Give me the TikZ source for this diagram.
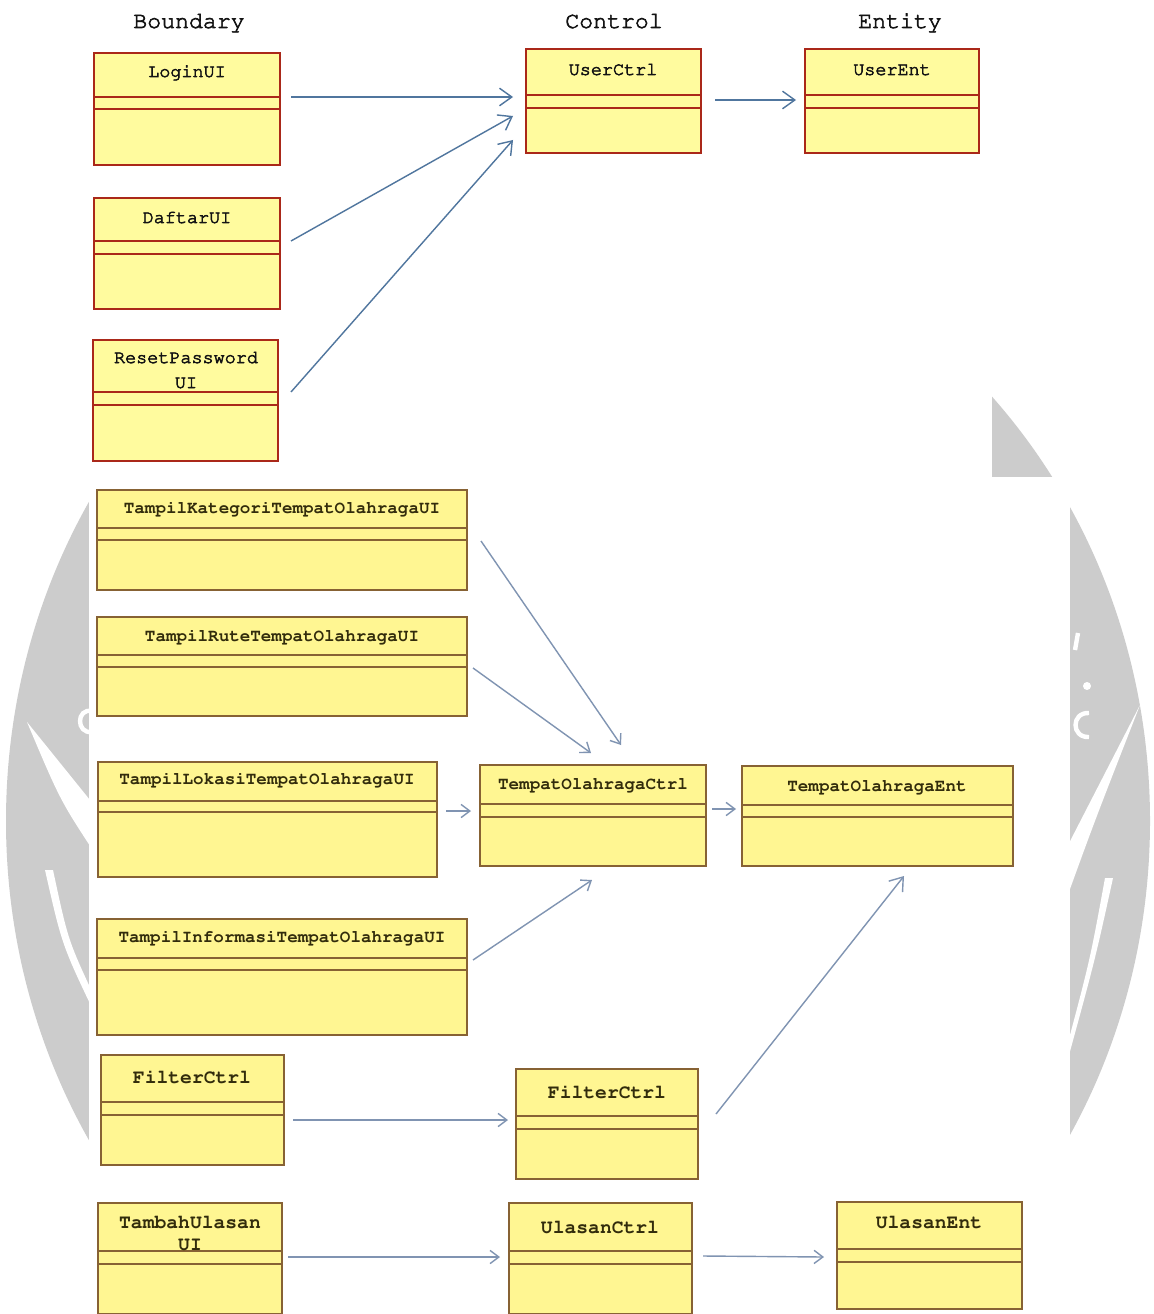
\documentclass[tikz,border=0pt]{standalone}
\usepackage[T1,TU]{fontenc}
\usetikzlibrary{arrows.meta,calc}

\newcommand\courierface{\fontencoding{T1}\fontfamily{pcr}\selectfont}
% slightly heavier strokes for the thin typewriter face
\newcommand\strokeon{\special{pdf:literal direct 2 Tr 0.35 w}}
\newcommand\strokeoff{\special{pdf:literal direct 0 Tr}}

\definecolor{boxfill}{RGB}{255,251,158}
\definecolor{boxfillB}{RGB}{255,246,146}
\definecolor{redline}{RGB}{170,40,25}
\definecolor{brownline}{RGB}{135,98,52}
\definecolor{arrowA}{RGB}{80,118,158}
\definecolor{arrowB}{RGB}{128,148,178}
\definecolor{inkA}{RGB}{20,20,20}
\definecolor{inkB}{RGB}{50,44,12}
\definecolor{wm}{RGB}{204,204,204}

% class box: name, x1, y1, x2, y2, first divider, second divider, style
\newcommand\classbox[8]{%
  \node[#8, minimum width={(#4-#2)*0.02cm}, minimum height={(#5-#3)*0.02cm}]
    (#1) at ({(#2+#4)/2},{(#3+#5)/2}) {};
  \draw[#8 div] (#1.west |- 0,#6) -- (#1.east |- 0,#6)
                (#1.west |- 0,#7) -- (#1.east |- 0,#7);
}

\begin{document}
\begin{tikzpicture}[
  x=0.02cm, y=-0.02cm,
  ubox/.style={draw=redline, fill=boxfill, line width=1.1pt, inner sep=0pt, outer sep=0pt},
  ubox div/.style={draw=redline, line width=1.1pt},
  lbox/.style={draw=brownline, fill=boxfillB, line width=1.1pt, inner sep=0pt, outer sep=0pt},
  lbox div/.style={draw=brownline, line width=1.1pt},
  stroked/.style={execute at begin node=\strokeon, execute at end node=\strokeoff},
  head/.style={font=\fontsize{13.2}{16}\courierface, text=inkA, anchor=base, inner sep=0pt, stroked},
  ulbl/.style={font=\fontsize{10.5}{14.2}\courierface, text=inkA, anchor=base, inner sep=0pt, align=center, stroked},
  tlbl/.style={font=\fontsize{10}{12}\courierface\bfseries, text=inkB, anchor=base, inner sep=0pt},
  blbl/.style={font=\fontsize{11.2}{12.5}\courierface\bfseries, text=inkB, anchor=base, inner sep=0pt, align=center},
  uarr/.style={draw=arrowA, line width=0.8pt, -{Straight Barb[length=7pt,width=10pt]}},
  larr/.style={draw=arrowB, line width=0.8pt, -{Straight Barb[length=5pt,width=7.5pt]}},
  wmcut/.style={fill=white},
]
\useasboundingbox (0,0) rectangle (1153,1314);
\fill[white] (0,0) rectangle (1153,1314);

% faint emblem behind the diagram
\fill[wm] (578,821) ellipse [x radius=572, y radius=615];
\fill[wmcut] (27,722) -- (94,805) -- (94,852) .. controls (60,800) .. (27,722);
\fill[wmcut] (45,870) .. controls (62,945) .. (94,1012) -- (94,996) .. controls (68,940) .. (53,870) -- cycle;
\draw[white, line width=2.5pt] (92,711) .. controls (76,708) and (76,734) .. (92,732);
\fill[wmcut] (1140,705) -- (1066,849) -- (1066,900) .. controls (1095,820) .. (1140,705);
\fill[wmcut] (1113,878) .. controls (1095,960) .. (1066,1066) -- (1066,1050) .. controls (1090,960) .. (1105,878) -- cycle;
\draw[white, line width=2.5pt] (1078,633) -- (1075,650);
\fill[white] (1087,686) circle [radius=4];
\draw[white, line width=2.5pt] (1089,713) .. controls (1071,712) and (1071,738) .. (1089,737);

% panels of the two sheets
\fill[white] (0,0) rectangle (992,477);
\fill[white] (89,477) rectangle (1070,1314);

% ---------- user management ----------
\node[head] (hBoundary) at (189,28) {Boundary};
\node[head] (hControl) at (614,28) {Control};
\node[head] (hEntity) at (900,28) {Entity};

\classbox{login}{94}{53}{280}{165}{97}{109}{ubox}
\classbox{daftar}{94}{198}{280}{309}{241}{254}{ubox}
\classbox{reset}{93}{340}{278}{461}{392}{405}{ubox}
\classbox{userctrl}{526}{49}{701}{153}{95}{108}{ubox}
\classbox{userent}{805}{49}{979}{153}{95}{108}{ubox}

\node[ulbl] (loginL) at (187,77) {LoginUI};
\node[ulbl] (daftarL) at (187,223) {DaftarUI};
\node[ulbl] (resetL) at (186,388) {ResetPassword\\UI};
\node[ulbl] (userctrlL) at (613,75) {UserCtrl};
\node[ulbl] (userentL) at (892,75) {UserEnt};

\draw[uarr] ($(login.north east)+(11,44)$) -- ($(userctrl.north west)+(-13,48)$);
\draw[uarr] ($(daftar.north east)+(11,43)$) -- ($(userctrl.north west)+(-13,67)$);
\draw[uarr] ($(reset.north east)+(13,52)$) -- ($(userctrl.north west)+(-13,91)$);
\draw[uarr] ($(userctrl.north east)+(14,51)$) -- ($(userent.north west)+(-9,51)$);

% ---------- sport venues, filter and reviews ----------
\classbox{kategori}{97}{490}{467}{590}{528}{540}{lbox}
\classbox{rute}{97}{617}{467}{716}{655}{667}{lbox}
\classbox{lokasi}{98}{762}{437}{877}{801}{812}{lbox}
\classbox{informasi}{97}{919}{467}{1035}{958}{970}{lbox}
\classbox{filterL}{101}{1055}{284}{1165}{1102}{1115}{lbox}
\classbox{tambah}{98}{1203}{282}{1314}{1251}{1264}{lbox}
\classbox{toctrl}{480}{765}{706}{866}{804}{817}{lbox}
\classbox{toent}{742}{766}{1013}{866}{805}{817}{lbox}
\classbox{filterM}{516}{1069}{698}{1179}{1116}{1129}{lbox}
\classbox{ulasanctrl}{509}{1203}{692}{1314}{1251}{1264}{lbox}
\classbox{ulasanent}{837}{1202}{1022}{1309}{1249}{1262}{lbox}

\node[tlbl] (kategoriL) at (282,513) {TampilKategoriTempatOlahragaUI};
\node[tlbl] (ruteL) at (282,641) {TampilRuteTempatOlahragaUI};
\node[tlbl] (lokasiL) at (267,784) {TampilLokasiTempatOlahragaUI};
\node[tlbl] (informasiL) at (282,942) {TampilInformasiTempatOlahragaUI};
\node[tlbl] (toctrlL) at (593,789) {TempatOlahragaCtrl};
\node[tlbl] (toentL) at (877,791) {TempatOlahragaEnt};
\node[blbl] (filterLL) at (192,1083) {FilterCtrl};
\node[blbl] (filterML) at (607,1098) {FilterCtrl};
\node[blbl] (tambahL) at (190,1250) {TambahUlasan\\UI};
\node[blbl] (ulasanctrlL) at (600,1233) {UlasanCtrl};
\node[blbl] (ulasanentL) at (929,1228) {UlasanEnt};

\draw[larr] ($(kategori.north east)+(14,51)$) -- ($(toctrl.north west)+(141,-20)$);
\draw[larr] ($(rute.north east)+(6,51)$) -- ($(toctrl.north west)+(111,-12)$);
\draw[larr] ($(lokasi.north east)+(9,49)$) -- ($(toctrl.north west)+(-9,46)$);
\draw[larr] ($(informasi.north east)+(6,41)$) -- ($(toctrl.south west)+(112,14)$);
\draw[larr] ($(toctrl.north east)+(6,44)$) -- ($(toent.north west)+(-6,43)$);
\draw[larr] ($(filterL.north east)+(9,65)$) -- ($(filterM.north west)+(-8,51)$);
\draw[uarr, draw=arrowB] ($(filterM.north east)+(18,45)$) -- ($(toent.south west)+(162,10)$);
\draw[larr] ($(tambah.north east)+(6,54)$) -- ($(ulasanctrl.north west)+(-9,54)$);
\draw[larr] ($(ulasanctrl.north east)+(11,53)$) -- ($(ulasanent.north west)+(-13,55)$);
\end{tikzpicture}
\end{document}
